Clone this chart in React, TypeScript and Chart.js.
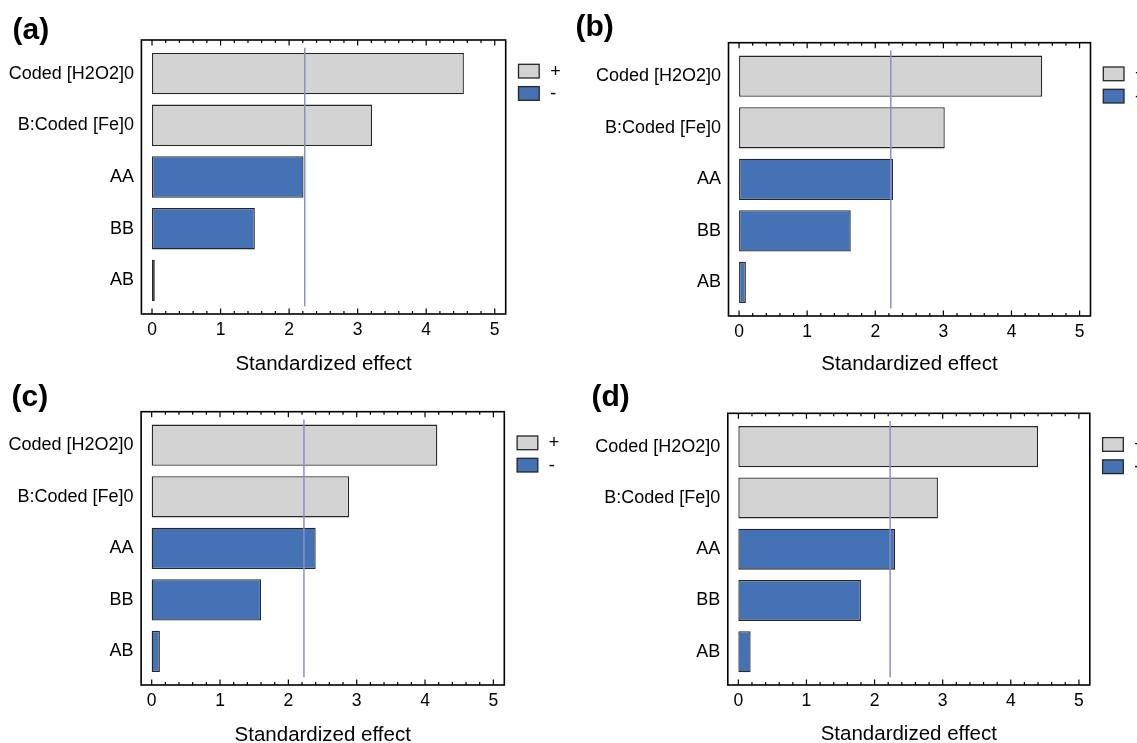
import React, { useEffect, useRef } from 'react';
import { Chart, registerables } from 'chart.js';

Chart.register(...registerables);

// ---------------- data ----------------
const categories = ['Coded [H2O2]0', 'B:Coded [Fe]0', 'AA', 'BB', 'AB'];
const effectSigns = ['+', '+', '-', '-', '-'];
const effectsA = [4.55, 3.21, 2.21, 1.5, 0.04];
const effectsB = [4.45, 3.02, 2.26, 1.64, 0.1];
const effectsC = [4.18, 2.89, 2.4, 1.6, 0.12];
const effectsD = [4.4, 2.93, 2.3, 1.8, 0.18];
const xTickValues = [0, 1, 2, 3, 4, 5];
const legendLabels = ['+', '-'];
const criticalEffect = 2.228;
const axisTitle = 'Standardized effect';

// ---------------- styles / layout ----------------
const FONT = '"Liberation Sans", Arial, Helvetica, sans-serif';
const GRAY = '#d3d3d3';
const BLUE = '#4472b4';
const BAR_BORDER = '#262626';
const LINE_COLOR = '#8b8fc6';
const X_MIN = -0.155;
const X_MAX = 5.16;
const Y_PAD = 0.65;
const TITLE_SIZE = 20.5;
const TITLE_LH = TITLE_SIZE * 1.2;

type Panel = {
  label: string;
  effects: number[];
  canvas: { left: number; top: number; width: number; height: number };
  frame: { left: number; right: number; top: number; bottom: number };
  titleY: number;
  labelX: number;
  labelBaseline: number;
};

const PANELS: Panel[] = [
  {
    label: '(a)', effects: effectsA,
    canvas: { left: 0, top: 0, width: 575, height: 378 },
    frame: { left: 141.4, right: 505.7, top: 40, bottom: 314 },
    titleY: 364.5, labelX: 12.5, labelBaseline: 39.7,
  },
  {
    label: '(b)', effects: effectsB,
    canvas: { left: 575, top: 0, width: 562, height: 378 },
    frame: { left: 728.5, right: 1090.5, top: 42.7, bottom: 316 },
    titleY: 364.7, labelX: 575.5, labelBaseline: 36.7,
  },
  {
    label: '(c)', effects: effectsC,
    canvas: { left: 0, top: 378, width: 575, height: 365 },
    frame: { left: 141.1, right: 504.3, top: 411.7, bottom: 685 },
    titleY: 735, labelX: 11.5, labelBaseline: 406.7,
  },
  {
    label: '(d)', effects: effectsD,
    canvas: { left: 575, top: 378, width: 562, height: 365 },
    frame: { left: 727.8, right: 1089.8, top: 413.3, bottom: 685 },
    titleY: 734.5, labelX: 591.5, labelBaseline: 406.7,
  },
];

const decorPlugin = {
  id: 'paretoDecor',
  afterDatasetsDraw(chart: any) {
    const { ctx, chartArea } = chart;
    const { left, right, top, bottom } = chartArea;
    const xs = chart.scales.x;
    const ys = chart.scales.y;
    ctx.save();

    // critical effect reference line
    const cx = xs.getPixelForValue(criticalEffect);
    ctx.strokeStyle = LINE_COLOR;
    ctx.lineWidth = 1.5;
    ctx.beginPath();
    ctx.moveTo(cx, ys.getPixelForValue(-0.5));
    ctx.lineTo(cx, ys.getPixelForValue(categories.length - 0.5));
    ctx.stroke();

    // frame
    ctx.strokeStyle = '#000';
    ctx.lineWidth = 1.6;
    ctx.strokeRect(left, top, right - left, bottom - top);

    // inward ticks on bottom and top edges
    ctx.lineWidth = 1.2;
    const drawTick = (v: number, len: number) => {
      const px = xs.getPixelForValue(v);
      ctx.beginPath();
      ctx.moveTo(px, bottom);
      ctx.lineTo(px, bottom - len);
      ctx.moveTo(px, top);
      ctx.lineTo(px, top + len);
      ctx.stroke();
    };
    for (let i = 0; i < xTickValues.length; i++) {
      drawTick(xTickValues[i], 5.5);
      if (i < xTickValues.length - 1) {
        const a = xTickValues[i];
        const b = xTickValues[i + 1];
        for (let k = 1; k < 5; k++) drawTick(a + ((b - a) * k) / 5, 3);
      }
    }

    // legend
    const colors = [GRAY, BLUE];
    const boxW = 20.7;
    const boxH = 13.7;
    const bx = right + 12.8;
    ctx.font = `18px ${FONT}`;
    ctx.textBaseline = 'middle';
    ctx.textAlign = 'left';
    legendLabels.forEach((lab, i) => {
      const by = top + 24.3 + i * 22.3;
      ctx.fillStyle = colors[i];
      ctx.fillRect(bx, by, boxW, boxH);
      ctx.strokeStyle = BAR_BORDER;
      ctx.lineWidth = 1.3;
      ctx.strokeRect(bx, by, boxW, boxH);
      ctx.fillStyle = '#000';
      ctx.fillText(lab, bx + boxW + 11, by + boxH / 2 + 0.5);
    });

    ctx.restore();
  },
};

function ParetoPanel({ panel }: { panel: Panel }) {
  const ref = useRef<HTMLCanvasElement | null>(null);

  useEffect(() => {
    if (!ref.current) return;
    const { canvas, frame, titleY } = panel;
    const axisBottom = titleY + TITLE_LH / 2;
    const xAxisH = axisBottom - frame.bottom;
    const yAxisW = frame.left - canvas.left;

    const chart = new Chart(ref.current, {
      type: 'bar',
      data: {
        datasets: [
          {
            data: panel.effects.map((v, i) => ({ x: v, y: i })),
            backgroundColor: effectSigns.map((s) => (s === '+' ? GRAY : BLUE)),
            borderColor: BAR_BORDER,
            borderWidth: 1.3,
            borderSkipped: false,
            barPercentage: 0.8,
            categoryPercentage: 1,
          } as any,
        ],
      },
      options: {
        animation: false,
        responsive: false,
        indexAxis: 'y',
        layout: {
          padding: {
            left: 0,
            top: frame.top - canvas.top,
            right: canvas.left + canvas.width - frame.right,
            bottom: canvas.top + canvas.height - axisBottom,
          },
        },
        plugins: {
          legend: { display: false },
          tooltip: { enabled: false },
        },
        scales: {
          x: {
            type: 'linear',
            position: 'bottom',
            min: X_MIN,
            max: X_MAX,
            bounds: 'data',
            offset: false,
            grid: { display: false, drawTicks: false },
            border: { display: false },
            afterBuildTicks: (s: any) => {
              s.ticks = xTickValues.map((v) => ({ value: v }));
            },
            afterFit: (s: any) => {
              s.height = xAxisH;
            },
            ticks: {
              autoSkip: false,
              padding: 6,
              color: '#000',
              font: { family: FONT, size: 17.5 },
              callback: (v: any) => String(v),
            },
            title: {
              display: true,
              text: axisTitle,
              color: '#000',
              padding: 0,
              font: { family: FONT, size: TITLE_SIZE, lineHeight: 1.2 },
            },
          },
          y: {
            type: 'linear',
            position: 'left',
            reverse: true,
            offset: false,
            min: -Y_PAD,
            max: categories.length - 1 + Y_PAD,
            bounds: 'data',
            grid: { display: false, drawTicks: false, offset: false },
            border: { display: false },
            afterBuildTicks: (s: any) => {
              s.ticks = categories.map((_, i) => ({ value: i }));
            },
            afterFit: (s: any) => {
              s.width = yAxisW;
            },
            ticks: {
              autoSkip: false,
              padding: 7.5,
              color: '#000',
              font: { family: FONT, size: 18 },
              callback: (v: any) => categories[v] ?? '',
            },
          },
        } as any,
      } as any,
      plugins: [decorPlugin],
    });
    return () => chart.destroy();
  }, [panel]);

  const { canvas } = panel;
  return (
    <canvas
      ref={ref}
      width={canvas.width}
      height={canvas.height}
      style={{
        position: 'absolute',
        left: canvas.left,
        top: canvas.top,
        width: canvas.width,
        height: canvas.height,
      }}
    />
  );
}

export default function App() {
  return (
    <div
      style={{
        position: 'absolute',
        left: 0,
        top: 0,
        width: 1137,
        height: 743,
        overflow: 'hidden',
        background: '#fff',
      }}
    >
      {PANELS.map((p) => (
        <ParetoPanel key={p.label} panel={p} />
      ))}
      {PANELS.map((p) => (
        <div
          key={'lab' + p.label}
          style={{
            position: 'absolute',
            left: p.labelX,
            top: p.labelBaseline - 25.4,
            fontFamily: FONT,
            fontWeight: 'bold',
            fontSize: 30,
            lineHeight: '30px',
            color: '#000',
            whiteSpace: 'nowrap',
          }}
        >
          {p.label}
        </div>
      ))}
    </div>
  );
}
